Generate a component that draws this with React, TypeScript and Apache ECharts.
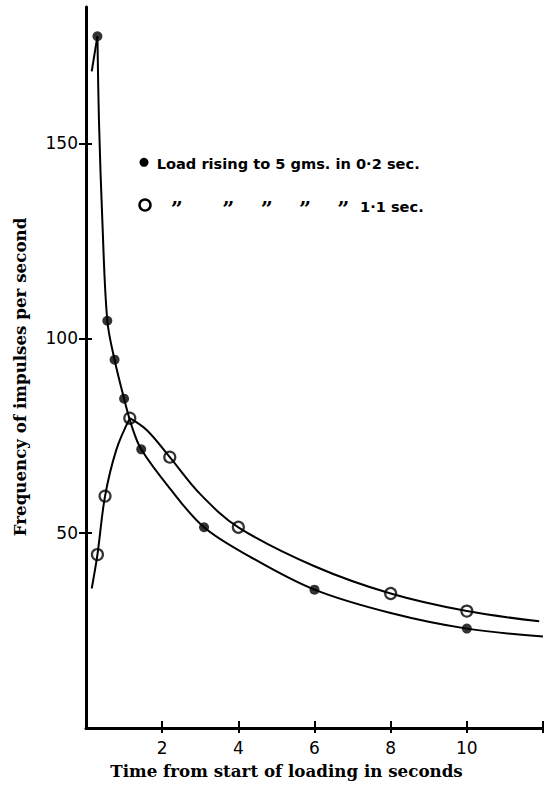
import React, { useEffect, useRef } from "react";
import * as echarts from "echarts";

// Observed frequencies (impulses / s) against time from start of loading (s)
const FAST_T = [0.3, 0.56, 0.75, 1.0, 1.45, 3.1, 6, 10];
const FAST_F = [177.5, 104.5, 94.5, 84.5, 71.5, 51.5, 35.5, 25.5];
const SLOW_T = [0.3, 0.5, 1.15, 2.2, 4, 8, 10];
const SLOW_F = [44.5, 59.5, 79.5, 69.5, 51.5, 34.5, 30];

// Hand-drawn fitted curves through the observations
const FAST_RISE_T = [0.15, 0.3];
const FAST_RISE_F = [168.5, 177.5];
const FAST_FALL_T = [0.3, 0.34, 0.43, 0.56, 0.75, 1.0, 1.2, 1.45, 2.2, 3.1, 4.3, 6, 8, 10, 12];
const FAST_FALL_F = [177.5, 156, 130, 104.5, 94.5, 84.5, 77.5, 71.5, 61.5, 51.5, 44, 35.5, 29.5, 25.5, 23.5];
const SLOW_RISE_T = [0.15, 0.3, 0.5, 0.8, 1.15];
const SLOW_RISE_F = [35.8, 44.5, 59.5, 71.5, 79.5];
const SLOW_FALL_T = [1.15, 1.6, 2.2, 3.0, 4, 6, 8, 10, 11.9];
const SLOW_FALL_F = [79.5, 76.4, 69.5, 60, 51.5, 41.5, 34.5, 30, 27.4];

// Axis ticks and labels
const X_TICKS = [2, 4, 6, 8, 10, 12];
const X_LABELS = [2, 4, 6, 8, 10];
const Y_TICKS = [50, 100, 150];

const X_TITLE = "Time from start of loading in seconds";
const Y_TITLE = "Frequency of impulses per second";
const LEGEND_FAST = "Load rising to 5 gms. in 0\u00B72 sec.";
const LEGEND_SLOW = "1\u00B71 sec.";

const pairs = (xs: number[], ys: number[]) => xs.map((x, i) => [x, ys[i]]);

const INK = "#000";
const SANS = '"DejaVu Sans"';
const SERIF = '"DejaVu Serif"';

export default function App() {
  const ref = useRef<HTMLDivElement>(null);

  useEffect(() => {
    if (!ref.current) return;
    const chart = echarts.init(ref.current, null, { renderer: "svg" });

    const lineBase = {
      type: "line" as const,
      symbol: "none",
      lineStyle: { color: INK, width: 2 },
      silent: true,
      z: 2,
    };

    // ditto marks under each word of the first legend entry
    const dittoX = [176.7, 228.3, 266.7, 305, 343.3];

    chart.setOption({
      animation: false,
      backgroundColor: "#fff",
      grid: { left: 86, right: 1, top: 7, bottom: 58 },
      xAxis: [
        {
          type: "value",
          min: 0,
          max: 12,
          interval: 2,
          position: "bottom",
          axisLine: { show: true, lineStyle: { color: INK, width: 3 } },
          axisTick: { show: true, customValues: X_TICKS, length: 5, lineStyle: { color: INK, width: 2 } },
          axisLabel: { customValues: X_LABELS, margin: 11, color: INK, fontSize: 17, fontFamily: SANS },
          splitLine: { show: false },
        },
        {
          type: "value",
          min: 0,
          max: 12,
          interval: 2,
          position: "bottom",
          axisLine: { show: false },
          axisTick: { show: true, inside: true, customValues: X_TICKS, length: 7, lineStyle: { color: INK, width: 2 } },
          axisLabel: { show: false },
          splitLine: { show: false },
        },
      ],
      yAxis: [
        {
          type: "value",
          min: 0,
          max: 185,
          interval: 50,
          position: "left",
          axisLine: { show: true, lineStyle: { color: INK, width: 3 } },
          axisTick: { show: true, customValues: Y_TICKS, length: 7, lineStyle: { color: INK, width: 2 } },
          axisLabel: { customValues: Y_TICKS, margin: 8, color: INK, fontSize: 17, fontFamily: SANS },
          splitLine: { show: false },
        },
        {
          type: "value",
          min: 0,
          max: 185,
          interval: 50,
          position: "left",
          axisLine: { show: false },
          axisTick: { show: true, inside: true, customValues: Y_TICKS, length: 6, lineStyle: { color: INK, width: 2 } },
          axisLabel: { show: false },
          splitLine: { show: false },
        },
      ],
      series: [
        { ...lineBase, name: "fast rise", data: pairs(FAST_RISE_T, FAST_RISE_F), smooth: false },
        { ...lineBase, name: "fast fall", data: pairs(FAST_FALL_T, FAST_FALL_F), smooth: 0.35 },
        { ...lineBase, name: "slow rise", data: pairs(SLOW_RISE_T, SLOW_RISE_F), smooth: 0.35 },
        { ...lineBase, name: "slow fall", data: pairs(SLOW_FALL_T, SLOW_FALL_F), smooth: 0.35 },
        {
          type: "scatter",
          name: "0.2 sec",
          data: pairs(FAST_T, FAST_F),
          symbol: "circle",
          symbolSize: 10,
          itemStyle: { color: INK },
          z: 3,
        },
        {
          type: "scatter",
          name: "1.1 sec",
          data: pairs(SLOW_T, SLOW_F),
          symbol: "circle",
          symbolSize: 11,
          itemStyle: { color: "rgba(0,0,0,0)", borderColor: INK, borderWidth: 2.2 },
          z: 3,
        },
      ],
      graphic: [
        {
          type: "text",
          x: 286.5,
          y: 771,
          style: {
            text: X_TITLE,
            font: `bold 16.7px ${SERIF}`,
            fill: INK,
            align: "center",
            verticalAlign: "middle",
          },
        },
        {
          type: "text",
          x: 20,
          y: 377,
          rotation: Math.PI / 2,
          style: {
            text: Y_TITLE,
            font: `bold 16.7px ${SERIF}`,
            fill: INK,
            align: "center",
            verticalAlign: "middle",
          },
        },
        { type: "circle", shape: { cx: 144, cy: 162.3, r: 4.5 }, style: { fill: INK } },
        {
          type: "text",
          x: 156.7,
          y: 163,
          style: { text: LEGEND_FAST, font: `bold 14.6px ${SANS}`, fill: INK, align: "left", verticalAlign: "middle" },
        },
        {
          type: "circle",
          shape: { cx: 145, cy: 205, r: 5.5 },
          style: { fill: "none", stroke: INK, lineWidth: 2.5 },
        },
        ...dittoX.map((x) => ({
          type: "text",
          x,
          y: 208,
          style: { text: "\u201D", font: `bold 21px ${SERIF}`, fill: INK, align: "center", verticalAlign: "middle" },
        })),
        {
          type: "text",
          x: 360,
          y: 206,
          style: { text: LEGEND_SLOW, font: `bold 14.6px ${SANS}`, fill: INK, align: "left", verticalAlign: "middle" },
        },
      ],
    });

    return () => chart.dispose();
  }, []);

  return (
    <div
      ref={ref}
      style={{ position: "fixed", left: 0, top: 0, width: 544, height: 786, background: "#fff" }}
    />
  );
}
